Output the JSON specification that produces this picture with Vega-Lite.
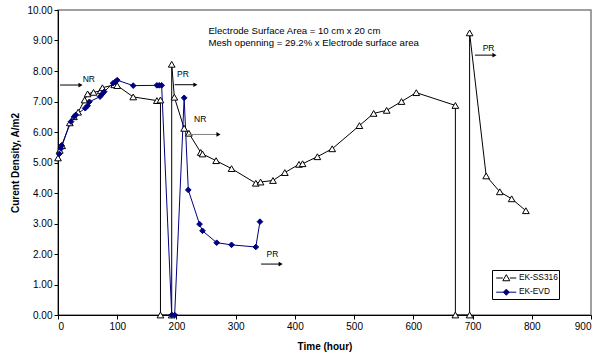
{
  "$schema": "https://vega.github.io/schema/vega-lite/v6.json",
  "width": 533,
  "height": 305,
  "autosize": {"type": "none"},
  "padding": {"left": 58, "top": 10, "right": 6, "bottom": 39},
  "background": "white",
  "config": {
    "font": "Liberation Sans",
    "view": {"stroke": "#808080", "strokeWidth": 1.5},
    "axis": {"grid": false, "domainColor": "black", "tickColor": "black", "labelColor": "black", "titleColor": "black", "labelFont": "Liberation Sans", "titleFont": "Liberation Sans", "labelFontSize": 10, "titleFontSize": 10, "titleFontWeight": "bold", "tickSize": 4, "labelPadding": 2, "labelOverlap": false},
    "legend": {"strokeColor": "black", "fillColor": "white", "padding": 1, "symbolSize": 150, "rowPadding": 2.2, "labelOffset": 12, "labelFontSize": 8.3, "labelColor": "black", "labelFont": "Liberation Sans", "symbolStrokeWidth": 1, "symbolOpacity": 1}
  },
  "datasets": {
    "series": [
      {"i": 1, "series": "EK-SS316", "hour": 0, "density": 5.15},
      {"i": 2, "series": "EK-SS316", "hour": 3, "density": 5.4},
      {"i": 3, "series": "EK-SS316", "hour": 7, "density": 5.55},
      {"i": 4, "series": "EK-SS316", "hour": 20, "density": 6.3},
      {"i": 5, "series": "EK-SS316", "hour": 27, "density": 6.5},
      {"i": 6, "series": "EK-SS316", "hour": 34, "density": 6.65},
      {"i": 7, "series": "EK-SS316", "hour": 45, "density": 7.05},
      {"i": 8, "series": "EK-SS316", "hour": 50, "density": 7.25},
      {"i": 9, "series": "EK-SS316", "hour": 60, "density": 7.3},
      {"i": 10, "series": "EK-SS316", "hour": 72, "density": 7.35},
      {"i": 11, "series": "EK-SS316", "hour": 75, "density": 7.45},
      {"i": 12, "series": "EK-SS316", "hour": 95, "density": 7.55},
      {"i": 13, "series": "EK-SS316", "hour": 100, "density": 7.52},
      {"i": 14, "series": "EK-SS316", "hour": 127, "density": 7.15},
      {"i": 15, "series": "EK-SS316", "hour": 167, "density": 7.03},
      {"i": 16, "series": "EK-SS316", "hour": 173, "density": 7.05},
      {"i": 17, "series": "EK-SS316", "hour": 173, "density": 0},
      {"i": 18, "series": "EK-SS316", "hour": 192, "density": 0},
      {"i": 19, "series": "EK-SS316", "hour": 192, "density": 8.22},
      {"i": 20, "series": "EK-SS316", "hour": 196.5, "density": 7.14},
      {"i": 21, "series": "EK-SS316", "hour": 213, "density": 6.12},
      {"i": 22, "series": "EK-SS316", "hour": 221, "density": 5.96},
      {"i": 23, "series": "EK-SS316", "hour": 241, "density": 5.33},
      {"i": 24, "series": "EK-SS316", "hour": 244, "density": 5.28},
      {"i": 25, "series": "EK-SS316", "hour": 267, "density": 5.06},
      {"i": 26, "series": "EK-SS316", "hour": 293, "density": 4.8},
      {"i": 27, "series": "EK-SS316", "hour": 334, "density": 4.32},
      {"i": 28, "series": "EK-SS316", "hour": 342, "density": 4.36},
      {"i": 29, "series": "EK-SS316", "hour": 363, "density": 4.41},
      {"i": 30, "series": "EK-SS316", "hour": 383, "density": 4.67},
      {"i": 31, "series": "EK-SS316", "hour": 407, "density": 4.94},
      {"i": 32, "series": "EK-SS316", "hour": 413, "density": 4.96},
      {"i": 33, "series": "EK-SS316", "hour": 438, "density": 5.19},
      {"i": 34, "series": "EK-SS316", "hour": 463, "density": 5.45},
      {"i": 35, "series": "EK-SS316", "hour": 509, "density": 6.21},
      {"i": 36, "series": "EK-SS316", "hour": 533, "density": 6.61},
      {"i": 37, "series": "EK-SS316", "hour": 555, "density": 6.71},
      {"i": 38, "series": "EK-SS316", "hour": 580, "density": 7.0},
      {"i": 39, "series": "EK-SS316", "hour": 605, "density": 7.29},
      {"i": 40, "series": "EK-SS316", "hour": 671, "density": 6.87},
      {"i": 41, "series": "EK-SS316", "hour": 671, "density": 0},
      {"i": 42, "series": "EK-SS316", "hour": 695, "density": 0},
      {"i": 43, "series": "EK-SS316", "hour": 695, "density": 9.25},
      {"i": 44, "series": "EK-SS316", "hour": 723, "density": 4.56},
      {"i": 45, "series": "EK-SS316", "hour": 746, "density": 4.04},
      {"i": 46, "series": "EK-SS316", "hour": 766, "density": 3.81},
      {"i": 47, "series": "EK-SS316", "hour": 790, "density": 3.42},
      {"i": 101, "series": "EK-EVD", "hour": 2, "density": 5.28},
      {"i": 102, "series": "EK-EVD", "hour": 5, "density": 5.46},
      {"i": 103, "series": "EK-EVD", "hour": 6, "density": 5.56},
      {"i": 104, "series": "EK-EVD", "hour": 22, "density": 6.34},
      {"i": 105, "series": "EK-EVD", "hour": 27, "density": 6.5},
      {"i": 106, "series": "EK-EVD", "hour": 30, "density": 6.56},
      {"i": 107, "series": "EK-EVD", "hour": 46, "density": 6.78},
      {"i": 108, "series": "EK-EVD", "hour": 50, "density": 6.86},
      {"i": 109, "series": "EK-EVD", "hour": 53, "density": 6.99},
      {"i": 110, "series": "EK-EVD", "hour": 71, "density": 7.16},
      {"i": 111, "series": "EK-EVD", "hour": 75, "density": 7.25},
      {"i": 112, "series": "EK-EVD", "hour": 78, "density": 7.32},
      {"i": 113, "series": "EK-EVD", "hour": 93, "density": 7.6},
      {"i": 114, "series": "EK-EVD", "hour": 97, "density": 7.65},
      {"i": 115, "series": "EK-EVD", "hour": 100, "density": 7.7},
      {"i": 116, "series": "EK-EVD", "hour": 127, "density": 7.52},
      {"i": 117, "series": "EK-EVD", "hour": 167, "density": 7.53},
      {"i": 118, "series": "EK-EVD", "hour": 171, "density": 7.53},
      {"i": 119, "series": "EK-EVD", "hour": 175, "density": 7.53},
      {"i": 120, "series": "EK-EVD", "hour": 192, "density": 0},
      {"i": 121, "series": "EK-EVD", "hour": 197, "density": 0},
      {"i": 122, "series": "EK-EVD", "hour": 213, "density": 7.12},
      {"i": 123, "series": "EK-EVD", "hour": 220, "density": 4.1},
      {"i": 124, "series": "EK-EVD", "hour": 239, "density": 2.98},
      {"i": 125, "series": "EK-EVD", "hour": 244, "density": 2.76},
      {"i": 126, "series": "EK-EVD", "hour": 268, "density": 2.37},
      {"i": 127, "series": "EK-EVD", "hour": 293, "density": 2.3},
      {"i": 128, "series": "EK-EVD", "hour": 334, "density": 2.23},
      {"i": 129, "series": "EK-EVD", "hour": 341, "density": 3.06}
    ],
    "arrows": [
      {"label": "NR", "from": 3.5, "to": 38, "y": 7.54, "tx": 52, "ty": 7.74, "c": "black"},
      {"label": "PR", "from": 197, "to": 232, "y": 7.55, "tx": 211, "ty": 7.9, "c": "black"},
      {"label": "NR", "from": 220, "to": 271, "y": 5.92, "tx": 240, "ty": 6.42, "c": "gray"},
      {"label": "PR", "from": 343, "to": 376, "y": 1.67, "tx": 362, "ty": 1.99, "c": "black"},
      {"label": "PR", "from": 704, "to": 737, "y": 8.52, "tx": 727, "ty": 8.77, "c": "black"}
    ],
    "notes": [
      {"hour": 254, "density": 9.31, "text": "Electrode Surface Area = 10 cm x 20 cm"},
      {"hour": 254, "density": 8.93, "text": "Mesh openning  = 29.2% x Electrode surface area"}
    ]
  },
  "layer": [
    {
      "data": {"name": "series"},
      "transform": [{"filter": "datum.series === 'EK-SS316'"}],
      "mark": {"type": "line", "strokeWidth": 1, "color": "black"},
      "encoding": {
        "x": {"field": "hour", "type": "quantitative", "scale": {"domain": [0, 900], "nice": false, "zero": false},
          "axis": {"title": "Time (hour)", "values": [0, 100, 200, 300, 400, 500, 600, 700, 800, 900], "labelOverlap": false, "titleY": 31, "titleBaseline": "middle"}},
        "y": {"field": "density", "type": "quantitative", "scale": {"domain": [0, 10], "nice": false},
          "axis": {"title": "Curent Density, A/m2", "values": [0, 1, 2, 3, 4, 5, 6, 7, 8, 9, 10], "tickCount": 11, "labelOverlap": false, "labelSeparation": 0, "labelBound": false, "labelFlush": false, "format": ".2f", "titleX": -43, "titleY": 152.5, "titleAngle": -90, "titleAlign": "center", "titleBaseline": "middle"}},
        "order": {"field": "i", "type": "quantitative"}
      }
    },
    {
      "data": {"name": "series"},
      "transform": [{"filter": "datum.series === 'EK-EVD'"}],
      "mark": {"type": "line", "strokeWidth": 1, "color": "#000080"},
      "encoding": {
        "x": {"field": "hour", "type": "quantitative"},
        "y": {"field": "density", "type": "quantitative"},
        "order": {"field": "i", "type": "quantitative"}
      }
    },
    {
      "data": {"name": "series"},
      "transform": [{"filter": "datum.series === 'EK-SS316'"}],
      "mark": {"type": "point", "shape": "triangle-up", "filled": true, "fill": "white", "stroke": "black", "strokeWidth": 1, "size": 45, "opacity": 1},
      "encoding": {
        "x": {"field": "hour", "type": "quantitative"},
        "y": {"field": "density", "type": "quantitative"}
      }
    },
    {
      "data": {"name": "series"},
      "transform": [{"filter": "datum.series === 'EK-EVD'"}],
      "mark": {"type": "point", "shape": "diamond", "filled": true, "fill": "#000080", "stroke": "#000080", "strokeWidth": 1, "size": 32, "opacity": 1},
      "encoding": {
        "x": {"field": "hour", "type": "quantitative"},
        "y": {"field": "density", "type": "quantitative"}
      }
    },
    {
      "data": {"name": "series"},
      "transform": [{"filter": "false"}],
      "mark": {"type": "point", "filled": true, "opacity": 1, "strokeWidth": 1, "size": 150},
      "encoding": {
        "x": {"field": "hour", "type": "quantitative"},
        "y": {"field": "density", "type": "quantitative"},
        "stroke": {"field": "series", "type": "nominal", "scale": {"domain": ["EK-SS316", "EK-EVD"], "range": ["black", "#000080"]}},
        "fill": {"field": "series", "type": "nominal", "scale": {"domain": ["EK-SS316", "EK-EVD"], "range": ["white", "#000080"]}},
        "shape": {"field": "series", "type": "nominal",
          "scale": {"domain": ["EK-SS316", "EK-EVD"], "range": ["M-0.62,0H0.46M1.6,0H2.65M0.46,0.45L1.03,-0.55L1.6,0.45Z", "M-0.62,0H2.65M0.55,0L1.03,-0.5L1.51,0L1.03,0.5Z"]},
          "legend": {"title": null, "orient": "none", "legendX": 434, "legendY": 260, "strokeColor": "black", "fillColor": "white", "padding": 1, "symbolSize": 150, "rowPadding": 2.2, "labelOffset": 12, "labelFontSize": 8.3, "symbolStrokeWidth": 1}}
      }
    },
    {
      "data": {"name": "arrows"},
      "mark": {"type": "rule", "strokeWidth": 1},
      "encoding": {
        "x": {"field": "from", "type": "quantitative"},
        "x2": {"field": "to"},
        "y": {"field": "y", "type": "quantitative"},
        "color": {"field": "c", "type": "nominal", "scale": {"domain": ["black", "gray"], "range": ["black", "#808080"]}, "legend": null}
      }
    },
    {
      "data": {"name": "arrows"},
      "mark": {"type": "point", "shape": "triangle-right", "filled": true, "size": 22, "color": "black", "opacity": 1},
      "encoding": {
        "x": {"field": "to", "type": "quantitative"},
        "y": {"field": "y", "type": "quantitative"}
      }
    },
    {
      "data": {"name": "arrows"},
      "mark": {"type": "text", "fontSize": 8.5, "align": "center", "baseline": "middle", "color": "black", "font": "Liberation Sans"},
      "encoding": {
        "x": {"field": "tx", "type": "quantitative"},
        "y": {"field": "ty", "type": "quantitative"},
        "text": {"field": "label"}
      }
    },
    {
      "data": {"name": "notes"},
      "mark": {"type": "text", "fontSize": 9.6, "align": "left", "baseline": "middle", "color": "black", "font": "Liberation Sans"},
      "encoding": {
        "x": {"field": "hour", "type": "quantitative"},
        "y": {"field": "density", "type": "quantitative"},
        "text": {"field": "text"}
      }
    }
  ]
}
